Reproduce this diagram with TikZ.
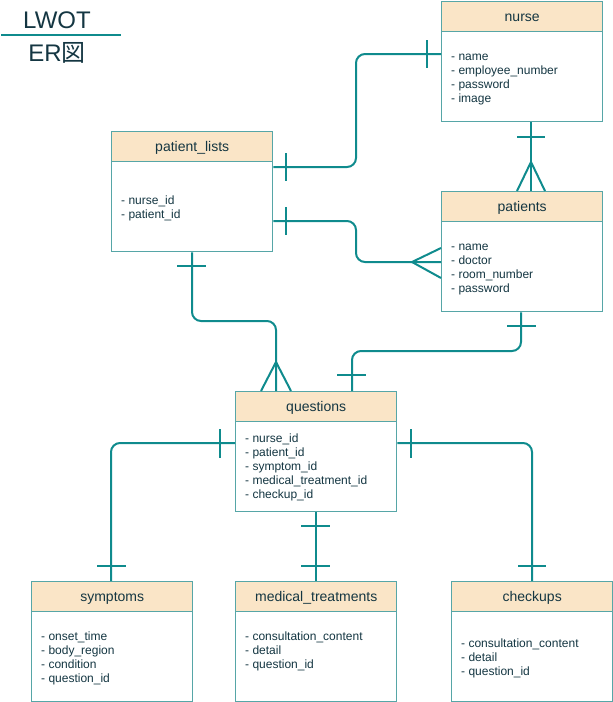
\documentclass[tikz,border=0pt]{standalone}
\usepackage{fontspec}
\setmainfont{Liberation Sans}
\newfontfamily\cjkfont{Noto Sans CJK JP}
\usetikzlibrary{calc}
\definecolor{tealc}{HTML}{0F8B8D}
\definecolor{boxc}{HTML}{56A6A7}
\definecolor{hdrfill}{HTML}{FAE5C7}
\definecolor{txtc}{HTML}{143642}
\tikzset{
  x=1pt, y=-1pt,
  ebody/.style={draw=boxc, line width=1.4pt, fill=white, minimum width=161pt, minimum height=120pt, anchor=north west, inner sep=0pt},
  ehead/.style={draw=boxc, line width=1.4pt, fill=hdrfill, minimum width=161pt, minimum height=30pt, anchor=north west, inner sep=0pt, text=txtc, text height=10pt, text depth=0pt, font=\fontsize{14}{16}\selectfont},
  eattr/.style={anchor=north west, inner sep=0pt, align=left, text=txtc, font=\fontsize{12}{14}\selectfont},
  conn/.style={draw=tealc, line width=2pt, rounded corners=9pt},
  erbar/.style={draw=tealc, line width=2pt},
}
% #1 name, #2 x, #3 y, #4 title, #5 first baseline offset, #6 attrs
\newcommand{\entity}[6]{%
  \node[ebody] (#1) at (#2,#3) {};
  \node[ehead] (#1-h) at (#2,#3) {#4};
  \node[eattr] (#1-a) at ($(#1.north west)+(10,#5-9.8)$) {\strut #6};
}
\begin{document}
\begin{tikzpicture}
\useasboundingbox (0,0) rectangle (613,702);
% title
\node[text=txtc, font=\fontsize{24}{26}\selectfont, anchor=base] (title1) at (57,28) {LWOT};
\node[text=txtc, font=\fontsize{24}{26}\selectfont, anchor=base] (title2) at (57,61) {ER{\cjkfont 図}};
\draw[draw=tealc, line width=2pt] (1,35) -- (121,35);

\entity{nurse}{441}{1}{nurse}{59}{- name\\- employee\_number\\- password\\- image}
\entity{pl}{111}{131}{patient\_lists}{73}{- nurse\_id\\- patient\_id}
\entity{pat}{441}{191}{patients}{59}{- name\\- doctor\\- room\_number\\- password}
\entity{q}{235}{391}{questions}{51}{- nurse\_id\\- patient\_id\\- symptom\_id\\- medical\_treatment\_id\\- checkup\_id}
\entity{sym}{31}{581}{symptoms}{59}{- onset\_time\\- body\_region\\- condition\\- question\_id}
\entity{med}{235}{581}{medical\_treatments}{59}{- consultation\_content\\- detail\\- question\_id}
\entity{chk}{451}{581}{checkups}{66}{- consultation\_content\\- detail\\- question\_id}

% patient_lists -> nurse
\draw[conn] ($(pl.north east)+(0,36)$) -- (356,167) -- (356,54) -- ($(nurse.north west)+(0,53)$);
\draw[erbar] (286,153) -- (286,181);
\draw[erbar] (427,40) -- (427,68);

% patient_lists -> patients
\draw[conn] ($(pl.north east)+(0,90)$) -- (356,221) -- (356,262) -- ($(pat.north west)+(0,71)$);
\draw[erbar] (286,207) -- (286,235);
\draw[erbar] (441,248) -- (412,262) -- (441,278);

% nurse -> patients
\draw[conn] ($(nurse.south west)+(90,0)$) -- ($(pat.north west)+(90,0)$);
\draw[erbar] (517,137) -- (545,137);
\draw[erbar] (517,191) -- (531,162) -- (545,191);

% patient_lists -> questions
\draw[conn] ($(pl.south west)+(81,0)$) -- (192,321) -- (276,321) -- ($(q.north west)+(41,0)$);
\draw[erbar] (177,266) -- (206,266);
\draw[erbar] (261,391) -- (276,362) -- (291,391);

% patients -> questions
\draw[conn] ($(pat.south west)+(80,0)$) -- (521,351) -- (352,351) -- ($(q.north west)+(117,0)$);
\draw[erbar] (507,326) -- (536,326);
\draw[erbar] (337,375) -- (366,375);

% questions -> symptoms
\draw[conn] ($(q.north west)+(0,52)$) -- (111,443) -- ($(sym.north west)+(80,0)$);
\draw[erbar] (220,429) -- (220,458);
\draw[erbar] (97,566) -- (126,566);

% questions -> medical_treatments
\draw[conn] ($(q.south west)+(81,0)$) -- ($(med.north west)+(81,0)$);
\draw[erbar] (301,526) -- (330,526);
\draw[erbar] (301,566) -- (330,566);

% questions -> checkups
\draw[conn] ($(q.north east)+(0,52)$) -- (532,443) -- ($(chk.north west)+(81,0)$);
\draw[erbar] (411,429) -- (411,458);
\draw[erbar] (518,566) -- (546,566);
\end{tikzpicture}
\end{document}
